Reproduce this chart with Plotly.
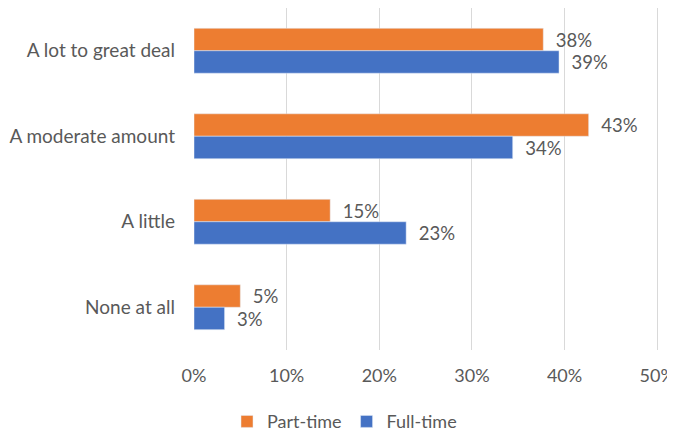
import plotly.graph_objects as go

categories = ["A lot to great deal", "A moderate amount", "A little", "None at all"]
part_time = [37.7, 42.6, 14.7, 5.0]
full_time = [39.4, 34.4, 22.9, 3.3]
x_ticks = [0, 10, 20, 30, 40, 50]
x_tick_labels = ["0%", "10%", "20%", "30%", "40%", "50%"]

FONT = "Lato"
TXT = "#595959"
FS = 19

fig = go.Figure()
fig.add_trace(go.Bar(
    y=categories, x=part_time, name="Part-time", orientation="h",
    marker=dict(color="#ED7D31"),
    texttemplate="  %{x:.0f}%", textposition="outside", cliponaxis=False,
    textfont=dict(family=FONT, size=FS, color=TXT),
))
fig.add_trace(go.Bar(
    y=categories, x=full_time, name="Full-time", orientation="h",
    marker=dict(color="#4472C4"),
    texttemplate="  %{x:.0f}%", textposition="outside", cliponaxis=False,
    textfont=dict(family=FONT, size=FS, color=TXT),
))

# page body has an 8px margin; compensate so the plot sits where the reference does
fig.update_layout(
    width=667, height=423,
    margin=dict(l=186, r=14.5, t=0, b=81),
    paper_bgcolor="white", plot_bgcolor="white",
    barmode="group", bargap=0.475, bargroupgap=0,
    font=dict(family=FONT, size=FS, color=TXT),
    showlegend=True,
    legend=dict(orientation="h", xref="container", x=0.5045, xanchor="center",
                yref="container", y=0.022, yanchor="middle",
                font=dict(family=FONT, size=18, color=TXT),
                itemwidth=30, tracegroupgap=0),
    xaxis=dict(range=[0, 50.3], tickvals=x_ticks, ticktext=x_tick_labels,
               showgrid=True, gridcolor="#D9D9D9", gridwidth=1,
               zeroline=False, showline=False, ticks="", ticklabelstandoff=13,
               ticklabeloverflow="allow", automargin=False,
               tickfont=dict(family=FONT, size=18, color=TXT)),
    yaxis=dict(autorange="reversed", showgrid=False, zeroline=False,
               showline=False, ticks="", ticklabelstandoff=18,
               automargin=False,
               tickfont=dict(family=FONT, size=FS, color=TXT)),
)

fig.write_html("out.html")
